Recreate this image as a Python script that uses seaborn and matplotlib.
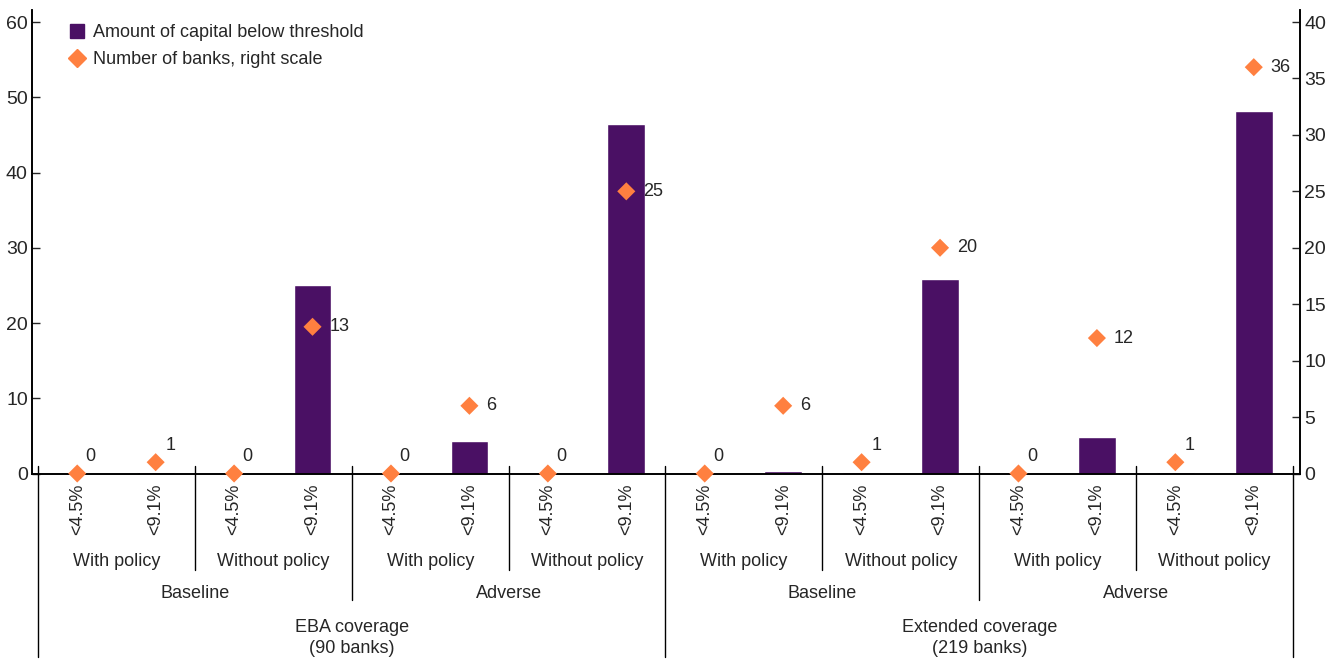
import numpy as np
import pandas as pd
import matplotlib
matplotlib.use('Agg')
import matplotlib.pyplot as plt
from matplotlib.lines import Line2D
import seaborn as sns

# --- dados ---
thresholds = ['<4.5%', '<9.1%'] * 8
policies = ['With policy', 'Without policy'] * 4
scenarios = ['Baseline', 'Adverse', 'Baseline', 'Adverse']
coverages = ['EBA coverage\n(90 banks)', 'Extended coverage\n(219 banks)']
capital = [0.0, 0.25, 0.0, 25.1, 0.0, 4.3, 0.0, 46.5,
           0.0, 0.35, 0.2, 25.8, 0.0, 4.9, 0.2, 48.2]
banks = [0, 1, 0, 13, 0, 6, 0, 25, 0, 6, 1, 20, 0, 12, 1, 36]

cor_barra = '#4A1064'
cor_ponto = '#FF8040'
fs = 13

sns.set_style('white')
plt.rcParams['font.family'] = ['Liberation Sans Narrow', 'Liberation Sans', 'DejaVu Sans']
plt.rcParams['font.size'] = fs

df = pd.DataFrame({'pos': np.arange(len(capital)), 'capital': capital, 'banks': banks})

fig = plt.figure(figsize=(13.33, 6.62), dpi=100)
W, H = 1333, 662
y0, y1 = 473.5, 10
ax = fig.add_axes([32 / W, 1 - y0 / H, (1300 - 32) / W, (y0 - y1) / H])
ax2 = ax.twinx()

sns.barplot(data=df, x='pos', y='capital', color=cor_barra, width=0.48,
            saturation=1, ax=ax, zorder=2)
sns.scatterplot(data=df, x='pos', y='banks', marker='D', s=85, color=cor_ponto,
                edgecolor='none', ax=ax2, zorder=3, clip_on=False)

escala = 61.6 / 60
ax.set_ylim(0, 60 * escala)
ax2.set_ylim(0, 40 * escala)
px = 78.4
ax.set_xlim(-0.5 - 6 / px, 15.5 + 7 / px)
ax.set_yticks(np.arange(0, 61, 10))
ax2.set_yticks(np.arange(0, 41, 5))
ax.set_ylabel('')
ax2.set_ylabel('')
ax.set_xlabel('')

for a in (ax, ax2):
    a.spines['top'].set_visible(False)
    for s in ('left', 'right', 'bottom'):
        a.spines[s].set_color('black')
        a.spines[s].set_linewidth(1.2)
ax.tick_params(axis='y', direction='in', length=6, width=1, pad=3, labelsize=fs + 1)
ax2.tick_params(axis='y', direction='in', length=6, width=1, pad=3, labelsize=fs + 1)

# rótulos de categoria e marcas entre as barras
ax.set_xticks(np.arange(16))
ax.set_xticklabels(thresholds, rotation=90, fontsize=fs)
ax.tick_params(axis='x', which='major', length=0, pad=7)
ax.set_xticks(np.arange(-0.5, 16, 1), minor=True)
ax.tick_params(axis='x', which='minor', direction='in', length=6, width=1)

# linhas de separação dos grupos
tr = ax.get_xaxis_transform()
def fr(p):
    return (y0 - p) / (y0 - y1)

for b in np.arange(-0.5, 16, 2):
    if b in (-0.5, 7.5, 15.5):
        fim = 657
    elif (b + 0.5) % 4 == 0:
        fim = 600
    else:
        fim = 570
    ax.plot([b, b], [fr(466), fr(fim)], color='black', lw=1, transform=tr, clip_on=False)

for i, p in enumerate(policies):
    ax.text(2 * i + 0.5, fr(562), p, transform=tr, ha='center', va='center', fontsize=fs)
for i, s in enumerate(scenarios):
    ax.text(4 * i + 1.5, fr(593), s, transform=tr, ha='center', va='center', fontsize=fs)
for i, c in enumerate(coverages):
    ax.text(8 * i + 3.5, fr(638), c, transform=tr, ha='center', va='center',
            fontsize=fs, linespacing=1.3)

# rótulos dos pontos
for i, v in enumerate(banks):
    if v <= 1:
        off = (6, 12) if v == 0 else (7, 12)
    else:
        off = (12, 0)
    ax2.annotate(str(v), (i, v), xytext=off, textcoords='offset points',
                 ha='left', va='center', fontsize=fs)

handles = [Line2D([], [], marker='s', ls='none', color=cor_barra, markersize=10),
           Line2D([], [], marker='D', ls='none', color=cor_ponto, markersize=9)]
ax.legend(handles, ['Amount of capital below threshold', 'Number of banks, right scale'],
          loc='upper left', bbox_to_anchor=((70 - 32) / (1300 - 32), 1 - (24 - y1) / (y0 - y1)),
          frameon=False, fontsize=fs, handlelength=0.8, handletextpad=0.5,
          labelspacing=0.55, borderaxespad=0, borderpad=0)

fig.savefig('out.png', dpi=100)
